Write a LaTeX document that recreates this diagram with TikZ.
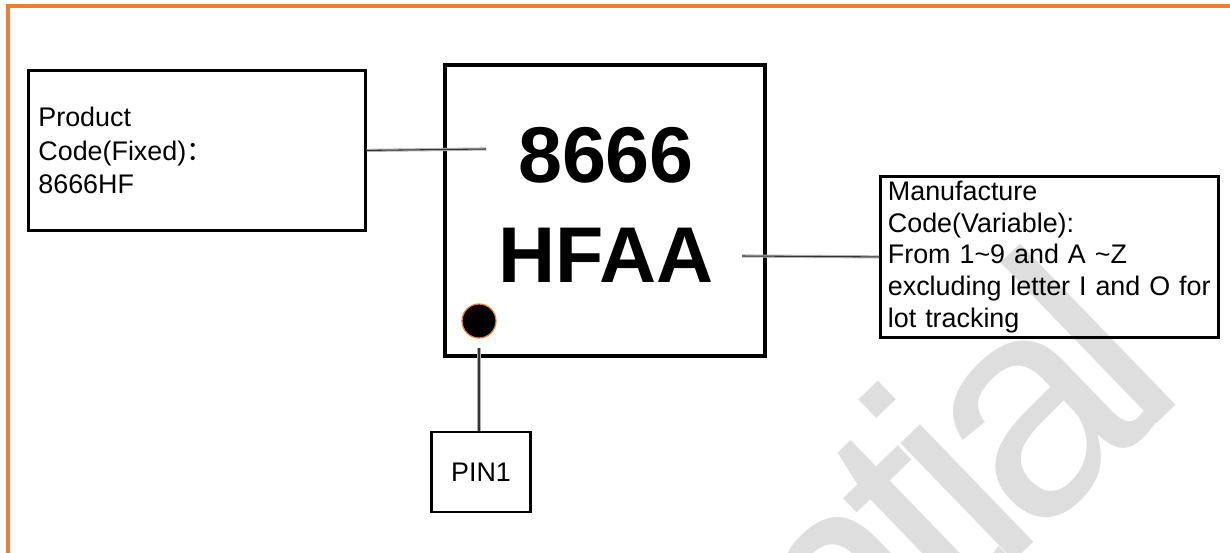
\documentclass[tikz,border=0pt]{standalone}
\usepackage{fontspec}
\setmainfont{Liberation Sans}
\newfontfamily\cjk{Noto Sans CJK SC}
\definecolor{frameorange}{RGB}{237,125,49}
\definecolor{wmgray}{RGB}{222,222,222}
\tikzset{
  labelbox/.style={draw, line width=1.6pt, align=left, inner xsep=0.2cm, inner ysep=0.05cm,
    font=\fontsize{15.3}{18}\selectfont},
  lead/.style={draw=gray!60, line width=0.6pt, double=black!80, double distance=0.6pt},
}
\begin{document}
\begin{tikzpicture}[x=0.02cm,y=-0.02cm]
\useasboundingbox (0,0) rectangle (1230,552);
\begin{scope}
\clip (0,0) rectangle (1230,552);
% watermark and frame
\node[rotate=44, anchor=base east, inner sep=0, text=wmgray,
  font=\fontsize{176}{176}\selectfont\addfontfeature{LetterSpace=-7}] (wm) at (1191,390) {Confidential};
\draw[frameorange, line width=2pt] (8,6) rectangle (1245,570);
\end{scope}
% chip
\node[draw, line width=2.5pt, minimum width=6.4cm, minimum height=5.82cm] (chip) at (605,210.5) {};
\node[font=\fontsize{45}{57}\selectfont\bfseries, align=center, inner sep=0] (marking) at (606,205) {8666\\HFAA};
\node[circle, fill=black, draw=frameorange, line width=0.7pt, minimum size=0.68cm, inner sep=0] (pindot) at (479,321) {};
% labels
\node[labelbox, anchor=north west, text width=6.34cm, minimum height=3.2cm,
  font=\fontsize{15.3}{19}\selectfont] (product) at (27,69) {Product\\Code(Fixed){\cjk ：}\\8666HF};
\node[labelbox, anchor=north west, text width=6.46cm, inner xsep=0.15cm, minimum height=3.22cm] (mfg) at (879,175) {Manufacture\\Code(Variable):\\From 1\textasciitilde 9 and A \textasciitilde Z\\excluding letter I and O for\\lot tracking};
\node[labelbox, align=center, minimum width=1.98cm, minimum height=1.6cm] (pin) at (481,472) {PIN1};
% leads
\coordinate (codeend) at (486,149);
\coordinate (mfgstart) at (742,256);
\coordinate (pinstart) at (479,348);
\draw[lead] (product.east) -- (codeend);
\draw[lead] (mfgstart) -- (mfg.west);
\draw[lead] (pinstart) -- (pinstart |- pin.north);
\end{tikzpicture}
\end{document}
